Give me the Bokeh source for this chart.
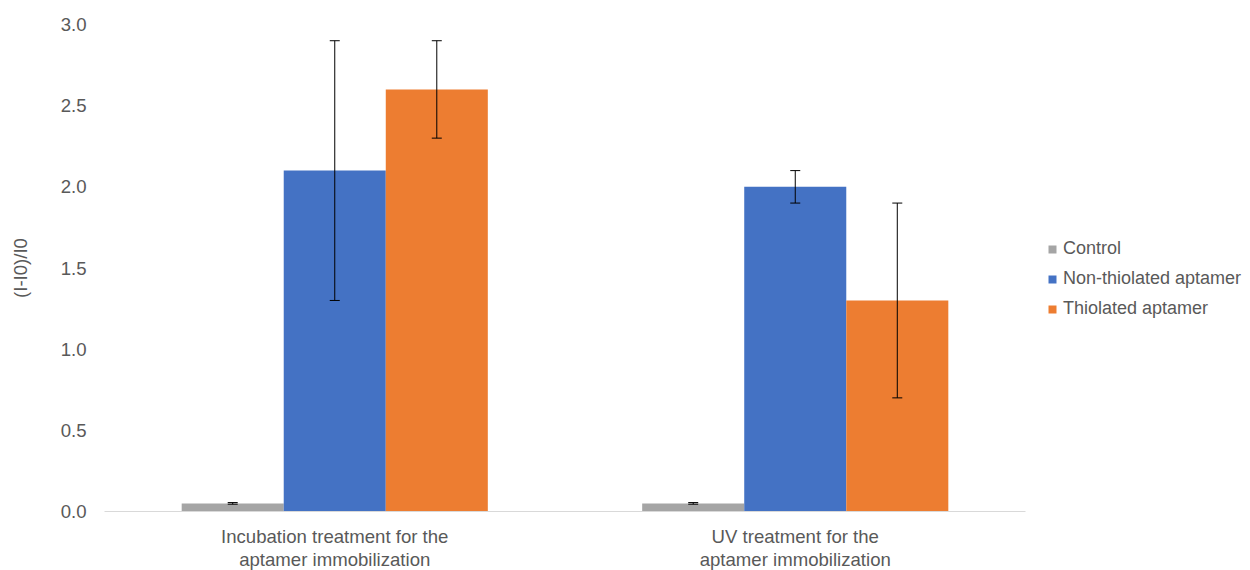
from bokeh.plotting import figure
from bokeh.models import ColumnDataSource, FactorRange, Range1d, Whisker, Legend, LegendItem, FixedTicker, NumeralTickFormatter, TeeHead
from bokeh.transform import dodge
from bokeh.embed import file_html
from bokeh.resources import INLINE

categories = ["Incubation treatment for the\naptamer immobilization",
              "UV treatment for the\naptamer immobilization"]
series = ["Control", "Non-thiolated aptamer", "Thiolated aptamer"]
control = [0.05, 0.05]
control_err = [0.005, 0.005]
non_thiolated = [2.1, 2.0]
non_thiolated_err = [0.8, 0.1]
thiolated = [2.6, 1.3]
thiolated_err = [0.3, 0.6]
colors = ["#A5A5A5", "#4472C4", "#ED7D31"]
y_ticks = [0.0, 0.5, 1.0, 1.5, 2.0, 2.5, 3.0]

FONT = "Liberation Sans"
TXT = "#595959"
FS = "18.6px"

p = figure(x_range=FactorRange(factors=categories, range_padding=0),
           y_range=Range1d(0, 3.0), frame_width=921, frame_height=487,
           output_backend="svg", toolbar_location=None,
           min_border_left=104, min_border_right=0, min_border_top=24, min_border_bottom=51)
p.outline_line_color = None
p.xgrid.grid_line_color = None
p.ygrid.grid_line_color = None

bw = 0.2216
offsets = [-bw, 0.0, bw]
values = [control, non_thiolated, thiolated]
errs = [control_err, non_thiolated_err, thiolated_err]
items = []
for name, vals, er, col, off in zip(series, values, errs, colors, offsets):
    src = ColumnDataSource(dict(x=categories, top=vals,
                                upper=[v + e for v, e in zip(vals, er)],
                                lower=[v - e for v, e in zip(vals, er)]))
    r = p.vbar(x=dodge("x", off, range=p.x_range), top="top", bottom=0, width=bw,
               source=src, fill_color=col, line_color=None)
    w = Whisker(base=dodge("x", off, range=p.x_range), upper="upper", lower="lower", source=src,
                line_color="#000000", line_width=1, level="overlay",
                upper_head=TeeHead(size=10, line_color="#000000", line_width=1),
                lower_head=TeeHead(size=10, line_color="#000000", line_width=1))
    p.add_layout(w)
    items.append(LegendItem(label=name, renderers=[r]))

p.yaxis.ticker = FixedTicker(ticks=y_ticks)
p.yaxis.formatter = NumeralTickFormatter(format="0.0")
p.yaxis.axis_line_color = None
p.yaxis.major_tick_line_color = None
p.yaxis.minor_tick_line_color = None
p.yaxis.major_label_text_font = FONT
p.yaxis.major_label_text_font_size = FS
p.yaxis.major_label_text_color = TXT
p.yaxis.major_label_standoff = 12
p.yaxis.axis_label = "(I-I0)/I0"
p.yaxis.axis_label_text_font = FONT
p.yaxis.axis_label_text_font_size = FS
p.yaxis.axis_label_text_font_style = "normal"
p.yaxis.axis_label_text_color = TXT
p.yaxis.axis_label_standoff = 27

p.xaxis.axis_line_color = "#D9D9D9"
p.xaxis.axis_line_width = 1
p.xaxis.major_tick_line_color = None
p.xaxis.minor_tick_line_color = None
p.xaxis.major_label_text_font = FONT
p.xaxis.major_label_text_font_size = FS
p.xaxis.major_label_text_line_height = 1.1
p.xaxis.major_label_text_color = TXT
p.xaxis.major_label_standoff = 8

legend = Legend(items=items, location=(22, 192), border_line_color=None,
                background_fill_alpha=0, label_text_font=FONT, label_text_font_size="18px",
                label_text_color=TXT, glyph_width=10, glyph_height=10, spacing=9,
                label_standoff=6, padding=0, margin=0)
p.add_layout(legend, "right")

open("out.html", "w").write(file_html(p, INLINE))
